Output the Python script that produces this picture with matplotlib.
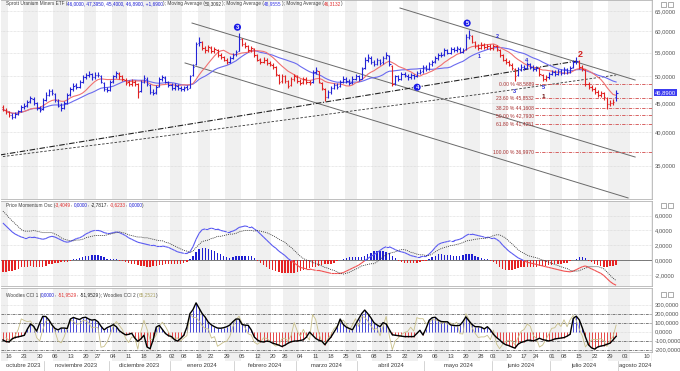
import numpy as np
import pandas as pd
import matplotlib
matplotlib.use('Agg')
import matplotlib.pyplot as plt
from matplotlib.collections import LineCollection
from matplotlib.transforms import blended_transform_factory
from matplotlib.ticker import NullLocator, FuncFormatter
from matplotlib.patches import Rectangle

plt.rcParams['font.family'] = ['Liberation Sans', 'DejaVu Sans']

# ---------------- dados ----------------
aberturas = [
    44.3, 43.7, 43.3, 42.8, 42.6, 43.0, 43.6, 44.2, 44.6, 45.3,
    45.7, 44.9, 44.1, 43.9, 45.6, 46.5, 47.1, 46.6, 45.4, 44.6,
    44.1, 45.0, 46.6, 47.5, 48.3, 48.0, 49.0, 49.9, 50.2, 50.5,
    49.8, 50.4, 50.1, 48.8, 47.6, 47.4, 49.1, 50.0, 50.6, 50.0,
    49.4, 48.9, 48.5, 49.0, 48.5, 47.2, 49.0, 49.6, 48.4, 47.0,
    46.9, 48.1, 49.5, 49.7, 48.9, 48.4, 47.8, 48.2, 47.8, 47.5,
    47.9, 47.8, 50.2, 52.5, 57.2, 57.3, 56.0, 55.6, 56.1, 55.4,
    55.7, 54.5, 54.0, 53.4, 53.0, 53.9, 54.6, 55.4, 58.0, 57.0,
    56.4, 55.5, 55.9, 54.4, 53.6, 53.0, 53.5, 52.8, 52.4, 51.9,
    50.4, 49.1, 50.0, 49.1, 48.3, 49.5, 49.9, 49.2, 48.9, 49.5,
    49.0, 48.9, 51.0, 51.1, 48.8, 47.6, 46.1, 47.0, 47.8, 48.3,
    48.1, 49.0, 49.5, 49.1, 48.9, 49.6, 50.0, 49.6, 51.7, 53.5,
    53.9, 53.0, 52.6, 53.4, 52.9, 53.9, 54.3, 52.2, 48.7, 50.0,
    49.6, 50.5, 50.1, 49.8, 50.3, 50.0, 50.8, 51.1, 52.0, 51.6,
    52.5, 53.1, 53.8, 54.5, 54.6, 55.5, 55.0, 55.8, 55.5, 55.9,
    55.2, 55.8, 58.6, 58.8, 57.4, 56.5, 56.0, 56.8, 56.2, 56.5,
    56.0, 56.4, 55.7, 54.4, 53.5, 53.0, 52.4, 51.6, 50.2, 51.5,
    52.0, 51.8, 52.5, 52.0, 51.5, 51.7, 50.4, 49.5, 49.8, 50.5,
    51.0, 50.5, 51.2, 50.8, 51.5, 51.0, 51.9, 53.0, 53.2, 52.0,
    51.3, 48.5, 48.0, 47.5, 47.0, 46.5, 46.8, 45.9, 44.8, 45.0,
    46.0]
maximas = [
    44.6, 44.0, 43.6, 43.2, 43.4, 43.8, 44.6, 45.0, 45.6, 46.3,
    46.0, 45.1, 44.5, 45.8, 46.9, 47.6, 47.5, 46.8, 45.7, 44.9,
    45.3, 46.8, 47.9, 48.7, 48.8, 49.4, 50.2, 50.8, 51.2, 50.8,
    50.9, 51.0, 50.3, 49.0, 48.0, 49.3, 50.4, 51.2, 50.9, 50.3,
    49.7, 49.3, 49.5, 49.4, 48.7, 49.4, 50.2, 49.8, 48.6, 47.5,
    48.4, 49.8, 50.3, 50.0, 49.2, 48.7, 48.7, 48.6, 48.1, 48.2,
    48.3, 50.4, 52.5, 57.5, 58.6, 57.6, 56.5, 56.8, 56.4, 56.3,
    55.9, 54.9, 54.3, 53.8, 54.2, 55.0, 55.7, 59.5, 58.4, 57.5,
    56.7, 56.6, 56.1, 54.7, 53.9, 54.0, 53.8, 53.2, 52.8, 52.1,
    50.6, 50.5, 50.3, 49.4, 49.9, 50.5, 50.2, 49.6, 49.9, 49.8,
    49.4, 51.4, 51.9, 51.2, 49.0, 47.8, 47.4, 48.2, 48.8, 48.7,
    49.4, 50.0, 49.9, 49.5, 50.0, 50.5, 50.3, 51.9, 54.0, 54.6,
    54.2, 53.4, 53.9, 53.7, 54.2, 55.1, 54.5, 52.4, 50.4, 50.3,
    50.9, 50.9, 50.5, 50.7, 50.6, 51.2, 51.5, 52.4, 52.3, 52.9,
    53.5, 54.2, 55.0, 55.2, 56.0, 55.9, 56.3, 56.2, 56.6, 56.2,
    56.0, 59.2, 60.3, 59.0, 57.7, 56.9, 57.3, 57.1, 57.0, 56.9,
    57.0, 56.7, 55.9, 54.7, 53.9, 53.4, 52.7, 51.8, 51.9, 52.5,
    52.4, 52.9, 52.8, 52.3, 52.2, 51.9, 50.6, 50.3, 50.9, 51.4,
    51.3, 51.6, 51.5, 51.9, 51.8, 52.2, 53.5, 54.0, 53.4, 52.3,
    51.5, 48.9, 48.3, 47.9, 47.3, 47.2, 47.0, 46.1, 45.5, 45.7,
    47.395]
minimas = [
    43.5, 43.0, 42.5, 42.2, 42.4, 42.8, 43.4, 43.9, 44.3, 45.0,
    44.7, 43.7, 43.4, 43.8, 45.3, 46.2, 46.4, 45.2, 44.2, 43.6,
    43.9, 44.8, 46.3, 47.2, 47.6, 47.8, 48.7, 49.6, 49.9, 49.4,
    49.5, 49.8, 48.7, 47.1, 46.9, 47.2, 48.8, 49.7, 49.6, 49.1,
    48.4, 48.1, 48.2, 48.2, 45.8, 47.0, 48.7, 48.2, 46.6, 46.4,
    46.7, 47.9, 49.2, 48.7, 47.9, 47.4, 47.4, 47.4, 47.1, 47.2,
    47.3, 47.7, 50.0, 52.3, 56.5, 55.6, 55.0, 55.2, 54.9, 55.0,
    54.1, 53.6, 53.1, 52.6, 52.8, 53.6, 54.3, 55.3, 56.6, 56.1,
    55.1, 55.2, 54.1, 53.1, 52.6, 52.7, 52.4, 52.1, 51.6, 50.1,
    48.6, 48.8, 48.8, 47.8, 48.1, 49.2, 48.8, 48.4, 48.6, 48.6,
    48.4, 48.8, 50.6, 48.7, 47.4, 45.3, 45.8, 46.7, 47.5, 47.6,
    47.9, 48.7, 48.8, 48.4, 48.6, 49.3, 49.1, 49.5, 51.5, 53.0,
    52.6, 52.1, 52.3, 52.4, 52.6, 53.6, 52.1, 48.1, 48.4, 49.1,
    49.3, 49.8, 49.4, 49.5, 49.6, 49.8, 50.5, 50.8, 51.1, 51.3,
    52.2, 52.8, 53.5, 54.0, 54.3, 54.6, 54.8, 55.1, 55.2, 54.9,
    54.9, 55.7, 58.2, 57.1, 56.1, 55.6, 55.8, 55.8, 55.9, 55.6,
    55.7, 55.4, 54.1, 53.1, 52.6, 52.1, 51.4, 49.2, 50.0, 51.2,
    51.4, 51.5, 51.6, 51.1, 51.1, 50.1, 49.1, 49.2, 49.6, 50.2,
    50.1, 50.3, 50.4, 50.6, 50.6, 50.8, 51.7, 52.6, 51.6, 51.1,
    48.1, 47.6, 47.1, 46.6, 46.1, 46.1, 45.6, 43.9, 44.4, 44.6,
    45.4]
fechamentos = [
    43.8, 43.4, 42.9, 42.6, 43.0, 43.5, 44.2, 44.5, 45.2, 45.8,
    45.0, 44.0, 43.8, 45.5, 46.5, 47.2, 46.8, 45.5, 44.5, 44.0,
    45.0, 46.5, 47.5, 48.2, 48.0, 49.0, 49.8, 50.3, 50.6, 49.8,
    50.4, 50.2, 49.0, 47.5, 47.3, 49.0, 50.0, 50.7, 50.0, 49.5,
    48.8, 48.5, 49.0, 48.6, 47.0, 49.0, 49.7, 48.5, 47.0, 46.8,
    48.0, 49.5, 49.8, 49.0, 48.3, 47.8, 48.3, 47.8, 47.5, 47.8,
    47.6, 50.0, 52.0, 57.0, 57.5, 56.0, 55.5, 56.2, 55.3, 55.8,
    54.5, 54.0, 53.5, 53.0, 53.8, 54.5, 55.2, 58.0, 57.0, 56.5,
    55.5, 56.0, 54.5, 53.5, 53.0, 53.5, 52.8, 52.5, 52.0, 50.5,
    49.0, 50.0, 49.2, 48.2, 49.5, 50.0, 49.2, 48.8, 49.5, 49.0,
    48.8, 51.0, 51.3, 49.0, 47.8, 46.0, 47.0, 47.8, 48.3, 48.0,
    49.0, 49.5, 49.2, 48.8, 49.6, 50.0, 49.5, 51.5, 53.5, 54.0,
    53.0, 52.5, 53.5, 52.8, 53.8, 54.5, 52.5, 48.5, 50.0, 49.5,
    50.5, 50.2, 49.8, 50.3, 50.0, 50.8, 51.0, 52.0, 51.5, 52.5,
    53.0, 53.8, 54.5, 54.5, 55.5, 55.0, 55.8, 55.5, 56.0, 55.2,
    55.5, 58.5, 59.0, 57.5, 56.5, 56.0, 56.8, 56.2, 56.5, 56.0,
    56.5, 55.8, 54.5, 53.5, 53.0, 52.5, 51.8, 50.0, 51.5, 52.0,
    51.8, 52.5, 52.0, 51.5, 51.8, 50.5, 49.5, 49.8, 50.5, 51.0,
    50.5, 51.2, 50.8, 51.5, 51.0, 51.8, 53.0, 53.3, 52.0, 51.5,
    48.5, 48.0, 47.5, 47.0, 46.5, 46.8, 46.0, 44.8, 45.0, 45.2,
    46.89]

# trechos de barras vermelhas (indice inicial, indice final)
trechos_vermelhos = [(0, 2), (38, 44), (65, 73), (78, 100), (103, 105), (127, 127),
                     (153, 167), (175, 177), (188, 199)]

# media longa (tracejada), lida em alguns pontos
ma_longa_idx = [0, 40, 80, 120, 160, 200]
ma_longa_val = [36.3, 38.6, 41.2, 44.0, 46.9, 50.3]

pmo = [
    5.0, 4.6, 4.2, 3.8, 3.5, 3.3, 3.1, 3.0, 3.0, 3.1,
    3.1, 3.0, 2.9, 2.8, 2.9, 3.1, 3.2, 3.1, 2.9, 2.7,
    2.5, 2.4, 2.5, 2.7, 2.9, 3.0, 3.2, 3.5, 3.7, 3.9,
    4.0, 4.0, 3.9, 3.7, 3.6, 3.6, 3.7, 3.8, 3.7, 3.5,
    3.3, 3.0, 2.8, 2.6, 2.4, 2.3, 2.2, 2.1, 2.0, 2.0,
    1.9, 1.9, 1.9, 1.8, 1.7, 1.5, 1.3, 1.1, 1.0, 0.9,
    0.9, 1.1, 1.8, 2.8, 3.6, 4.1, 4.2, 4.2, 4.3, 4.2,
    4.2, 4.0, 3.9, 3.8, 3.8, 3.9, 4.1, 4.4, 4.5, 4.6,
    4.5, 4.5, 4.2, 3.9, 3.5, 3.1, 2.7, 2.3, 1.9, 1.6,
    1.2, 0.9, 0.6, 0.2, -0.1, -0.4, -0.7, -1.0, -1.1, -1.2,
    -1.2, -1.3, -1.4, -1.4, -1.5, -1.6, -1.7, -1.8, -1.8, -1.8,
    -1.8, -1.7, -1.5, -1.3, -1.1, -0.9, -0.7, -0.4, -0.1, 0.2,
    0.5, 0.7, 1.0, 1.3, 1.6, 1.8, 1.8, 1.6, 1.4, 1.2,
    1.1, 1.0, 0.8, 0.6, 0.5, 0.4, 0.4, 0.5, 0.5, 0.8,
    1.2, 1.7, 2.1, 2.3, 2.4, 2.5, 2.6, 2.6, 2.7, 2.8,
    3.0, 3.3, 3.5, 3.5, 3.4, 3.3, 3.2, 3.1, 3.1, 3.0,
    3.0, 2.8, 2.5, 2.0, 1.6, 1.2, 0.9, 0.6, 0.3, 0.1,
    -0.1, -0.3, -0.4, -0.5, -0.6, -0.7, -0.8, -0.9, -1.0, -1.1,
    -1.2, -1.3, -1.4, -1.5, -1.55, -1.6, -1.5, -1.3, -1.1, -0.9,
    -0.8, -1.0, -1.2, -1.4, -1.6, -1.8, -2.1, -2.5, -2.9, -3.2,
    -3.4049]
pmo_hist = [
    -1.6, -1.6, -1.5, -1.5, -1.4, -1.2, -1.0, -0.9, -0.9, -0.8,
    -0.9, -0.9, -0.9, -0.9, -0.8, -0.6, -0.5, -0.4, -0.4, -0.3,
    -0.3, -0.3, -0.1, 0.1, 0.2, 0.3, 0.4, 0.5, 0.6, 0.7,
    0.7, 0.7, 0.6, 0.4, 0.2, 0.1, 0.1, 0.1, -0.1, -0.2,
    -0.3, -0.4, -0.5, -0.6, -0.7, -0.8, -0.8, -0.9, -0.9, -0.8,
    -0.8, -0.7, -0.7, -0.6, -0.6, -0.6, -0.6, -0.6, -0.5, -0.4,
    -0.3, 0.1, 0.6, 1.1, 1.5, 1.6, 1.6, 1.5, 1.4, 1.2,
    1.0, 0.8, 0.6, 0.4, 0.3, 0.4, 0.5, 0.6, 0.6, 0.6,
    0.5, 0.5, 0.3, -0.1, -0.4, -0.7, -1.0, -1.2, -1.4, -1.5,
    -1.6, -1.7, -1.8, -1.8, -1.8, -1.7, -1.6, -1.5, -1.3, -1.2,
    -1.1, -1.0, -0.9, -0.8, -0.7, -0.6, -0.6, -0.5, -0.4, -0.2,
    0.0, 0.2, 0.3, 0.35, 0.35, 0.35, 0.35, 0.4, 0.6, 0.8,
    1.0, 1.2, 1.25, 1.25, 1.2, 1.1, 0.9, 0.6, 0.3, -0.1,
    -0.3, -0.4, -0.45, -0.45, -0.45, -0.4, -0.3, -0.2, -0.1, 0.2,
    0.4, 0.6, 0.75, 0.75, 0.7, 0.7, 0.65, 0.6, 0.6, 0.6,
    0.65, 0.75, 0.85, 0.8, 0.6, 0.45, 0.3, 0.2, 0.1, -0.1,
    -0.3, -0.6, -0.9, -1.2, -1.35, -1.35, -1.3, -1.2, -1.1, -1.0,
    -1.0, -0.95, -0.9, -0.9, -0.9, -0.85, -0.8, -0.75, -0.7, -0.65,
    -0.6, -0.55, -0.5, -0.45, -0.4, -0.2, 0.0, 0.2, 0.35, 0.35,
    0.3, -0.1, -0.3, -0.5, -0.7, -0.8, -0.9, -0.9, -0.85, -0.75,
    -0.6233]
cci1 = [
    -92, -110, -115, -80, -65, -58, -50, -40, 30, 85,
    60, 5, 95, 170, 168, 130, 75, 35, 20, 40,
    40, 35, 140, 158, 145, 135, 155, 160, 140, 128,
    134, 110, 60, 20, 45, 60, 78, 55, 10, -15,
    -35, -30, -18, -70, -108, -80, -40, -170, -190, -90,
    50, 70, 25, -20, -45, -55, -90, -105, -75, -40,
    50, 200, 245, 320, 260, 200, 160, 105, 75, 55,
    40, 38, 44, 55, 73, 110, 140, 140, 80, 72,
    70, 20, -60, -92, -110, -115, -105, -110, -128, -138,
    -150, -165, -150, -128, -112, -105, -103, -98, -90, -60,
    -5, -40, -75, -95, -105, -145, -100, -60, -5, 50,
    140, 80, 50, 35, 20, 80, 140, 200, 240, 200,
    155, 100, 75, 55, 100, 85, 25, -35, -40, -44,
    -50, -55, -55, -55, -55, -20, 15, -37, 35, 125,
    155, 160, 128, 112, 110, 110, 75, 68, 66, 70,
    110, 165, 120, 80, 55, 55, 50, 30, 55, 20,
    -30, -65, -92, -125, -145, -155, -170, -183, -140, -120,
    -110, -95, -95, -103, -90, -73, -88, -95, -103, -95,
    -81, -76, -72, -66, -50, -29, 147, 172, 130, 40,
    -60, -147, -180, -194, -170, -160, -154, -140, -128, -92,
    -51.95]

fib_pcts = [0.0, 23.6, 38.2, 50.0, 61.8, 100.0]
fib_topo = 48.5889
fib_base = 36.9970

feriados = ['2023-11-23', '2023-12-25', '2024-01-01', '2024-01-15', '2024-02-19',
            '2024-03-29', '2024-05-27', '2024-06-19', '2024-07-04']
meses = ['enero', 'febrero', 'marzo', 'abril', 'mayo', 'junio', 'julio',
         'agosto', 'septiembre', 'octubre', 'noviembre', 'diciembre']

# ---------------- preparacao ----------------
datas = pd.bdate_range('2023-10-12', '2024-07-31')
datas = datas[~datas.isin(pd.to_datetime(feriados))]
futuro = pd.date_range('2024-08-01', periods=12, freq='D')
todas = datas.append(futuro)

df = pd.DataFrame({'open': aberturas, 'high': maximas, 'low': minimas,
                   'close': fechamentos}, index=datas)
n = len(df)
x = np.arange(n)

ma_curta = df['close'].rolling(10, min_periods=1).mean()
ma_media = df['close'].rolling(20, min_periods=1).mean()

tp = (df['high'] + df['low'] + df['close']) / 3
sma6 = tp.rolling(6, min_periods=2).mean()
md6 = tp.rolling(6, min_periods=2).apply(lambda s: np.mean(np.abs(s - s.mean())), raw=True)
cci2 = (tp - sma6) / (0.015 * md6)

W, H = 680, 371
XMIN, XMAX = -0.62, 211.7


def fmt(v):
    return f"{v:.4f}".replace('.', ',')


fig = plt.figure(figsize=(W / 100, H / 100), dpi=100)
fig.patch.set_facecolor('white')


def eixo(topo, base):
    return fig.add_axes([1 / W, 1 - base / H, 651 / W, (base - topo) / H])


ax1 = eixo(0, 199)
ax2 = eixo(201, 286)
ax3 = eixo(288, 352)

# faixas semanais alternadas
semanas = np.asarray(todas.isocalendar()['week'], dtype=int)
faixas = []
ini = 0
for k in range(1, len(todas) + 1):
    if k == len(todas) or semanas[k] != semanas[ini]:
        if semanas[ini] % 2 == 1:
            faixas.append((ini - 0.5, min(k - 0.5, XMAX)))
        ini = k

for ax in (ax1, ax2, ax3):
    for a, b in faixas:
        ax.axvspan(a, b, color='#f0f0f0', lw=0, zorder=0)
    ax.set_xlim(XMIN, XMAX)
    ax.yaxis.tick_right()
    ax.tick_params(axis='y', length=0, pad=2, labelsize=4.2, labelcolor='#555555')
    ax.tick_params(axis='x', length=0)
    ax.grid(axis='y', color='#d4d4d4', lw=0.5, ls=(0, (1, 1)))
    ax.set_axisbelow(True)
    for lado in ('top', 'bottom', 'right'):
        ax.spines[lado].set_color('#b4b4b4')
        ax.spines[lado].set_linewidth(0.6)
    ax.spines['left'].set_visible(False)

for a, b in faixas:
    ax3.axvspan(a, b, ymin=-0.14, ymax=0, color='#f0f0f0', lw=0, zorder=0, clip_on=False)

# ---------------- painel de precos ----------------
cor_barra = ['#2424d6'] * n
for a, b in trechos_vermelhos:
    for i in range(a, b + 1):
        cor_barra[i] = '#e02222'
seg_hl = [[(i, l), (i, h)] for i, l, h in zip(x, df['low'], df['high'])]
seg_o = [[(i - 0.45, o), (i, o)] for i, o in zip(x, df['open'])]
seg_c = [[(i, c), (i + 0.45, c)] for i, c in zip(x, df['close'])]
ax1.add_collection(LineCollection(seg_hl + seg_o + seg_c, colors=cor_barra * 3,
                                  linewidths=0.8, zorder=5))

ax1.plot(x, ma_media, color='#6b6bef', lw=0.8, zorder=4)
ax1.plot(x, ma_curta, color='#f07272', lw=0.8, zorder=4)
ax1.plot(ma_longa_idx, ma_longa_val, color='#333333', lw=0.6, ls=(0, (3, 2)), zorder=3)

# canais e linha de tendencia
canais = [((61.68, 61.92), (206.2, 36.23)),
          ((59.4, 52.78), (203.9, 30.76)),
          ((129.5, 65.76), (206.2, 49.30))]
for (i0, p0), (i1, p1) in canais:
    ax1.plot([i0, i1], [p0, p1], color='#6a6a6a', lw=0.7, zorder=3)
ax1.plot([-0.95, 187.2], [36.53, 53.19], color='#222222', lw=0.8,
         ls=(0, (5, 1.5, 1, 1.5)), zorder=3)

# niveis de Fibonacci
for pct in fib_pcts:
    v = fib_topo - pct / 100 * (fib_topo - fib_base)
    ax1.plot([173.6, XMAX], [v, v], color='#d24a4a', lw=0.6, ls=(0, (4, 1.5, 1, 1.5)), zorder=3)
    ax1.text(173.2, v, f"{pct:.2f} % {fmt(v)}", ha='right', va='center',
             fontsize=3.6, color='#a83030', zorder=6)

# rotulos de ondas
rotulos = [(76.5, 60.9, '3', 'c'), (151.4, 61.9, '5', 'c'), (135.1, 47.9, '4', 'c'),
           (161.2, 58.6, '2', 'a'), (155.3, 54.1, '1', 'a'), (170.9, 53.4, '4', 'a'),
           (166.7, 47.1, '3', 'a'), (176.2, 47.9, '5', 'a'), (176.2, 46.1, '1', 'v'),
           (188.2, 54.5, '2', 'r')]
for i, p, t, estilo in rotulos:
    if estilo == 'c':
        ax1.text(i, p, t, ha='center', va='center', fontsize=4.3, color='white',
                 fontweight='bold', zorder=7,
                 bbox=dict(boxstyle='circle,pad=0.18', fc='#1c1ce6', ec='none'))
    elif estilo == 'a':
        ax1.text(i, p, t, ha='center', va='center', fontsize=4.0, color='#2a2ad8',
                 fontweight='bold', zorder=7)
    elif estilo == 'v':
        ax1.text(i, p, t, ha='center', va='center', fontsize=4.5, color='#6e1010',
                 fontweight='bold', zorder=7)
    else:
        ax1.text(i, p, t, ha='center', va='center', fontsize=6.5, color='#d42020',
                 fontweight='bold', zorder=7)

ax1.set_yscale('log')
ax1.set_ylim(30.63, 67.9)
ax1.set_yticks([35, 40, 45, 50, 55, 60, 65])
ax1.yaxis.set_minor_locator(NullLocator())
ax1.yaxis.set_major_formatter(FuncFormatter(lambda v, p: fmt(v)))
ax1.set_xticks([])
ax1.annotate(fmt(fechamentos[-1]), xy=(1.0, fechamentos[-1]),
             xycoords=('axes fraction', 'data'), xytext=(2, 0), textcoords='offset points',
             ha='left', va='center', fontsize=4.2, color='white', zorder=8, annotation_clip=False,
             bbox=dict(boxstyle='square,pad=0.2', fc='#3c3cf0', ec='none'))

# ---------------- painel PMO ----------------
pmo_arr = np.array(pmo)
hist = np.array(pmo_hist)
sinal = pmo_arr - hist
ax2.bar(x, hist, width=0.45, color=np.where(hist >= 0, '#1f1fd2', '#e62222'), zorder=3)
pts = np.column_stack([x, pmo_arr])
segs = np.stack([pts[:-1], pts[1:]], axis=1)
cores = np.where((pmo_arr[:-1] + pmo_arr[1:]) / 2 >= 0, '#5a5af2', '#f05050')
ax2.add_collection(LineCollection(segs, colors=cores, linewidths=0.8, zorder=4))
ax2.plot(x, sinal, color='#333333', lw=0.6, ls=(0, (1.2, 1.2)), zorder=4)
ax2.axhline(0, color='#666666', lw=0.6, zorder=2)
ax2.set_ylim(-3.51, 7.97)
ax2.set_yticks([-2, 0, 2, 4, 6])
ax2.yaxis.set_major_formatter(FuncFormatter(lambda v, p: fmt(v)))
ax2.set_xticks([])

# ---------------- painel CCI ----------------
c1 = np.array(cci1, dtype=float)
ax3.vlines(x, 0, c1, colors=np.where(c1 >= 0, '#2a2ad2', '#e22a2a'), lw=0.6, zorder=3)
ax3.plot(x, c1, color='black', lw=1.0, zorder=5)
ax3.plot(x, cci2, color='#c9c08a', lw=0.6, zorder=4)
for nivel in [200, 100, -100, -200]:
    ax3.axhline(nivel, color='#505050', lw=0.5, ls=(0, (4, 1.5, 1, 1.5)), zorder=2)
ax3.set_ylim(-226, 485)
ax3.set_yticks([-200, -100, 0, 100, 200, 300])
ax3.yaxis.set_major_formatter(FuncFormatter(lambda v, p: fmt(v)))

# marcas semanais no eixo x
pos, rot = [], []
for k in range(1, len(todas)):
    d = todas[k]
    if k < n:
        if semanas[k] != semanas[k - 1]:
            pos.append(k)
            rot.append(f"{d.day:02d}")
    elif d.weekday() == 5 and k <= XMAX:
        pos.append(k)
        rot.append(f"{d.day:02d}")
ax3.set_xticks(pos)
ax3.set_xticklabels(rot)
ax3.tick_params(axis='x', labelsize=4.2, labelcolor='#444444', pad=1.5)

# meses
trans = blended_transform_factory(ax3.transData, ax3.transAxes)
mes_id = todas.year * 12 + todas.month
ini = 0
for k in range(1, len(todas) + 1):
    if k == len(todas) or mes_id[k] != mes_id[ini]:
        d = todas[ini]
        centro = (ini + min(k - 1, XMAX)) / 2
        ax3.text(centro, -0.215, f"{meses[d.month - 1]} {d.year}", transform=trans,
                 ha='center', va='center', fontsize=4.2, color='#3a3a3a', clip_on=False)
        if k < len(todas) and k - 0.5 < XMAX:
            ax3.plot([k - 0.5, k - 0.5], [-0.14, -0.33], transform=trans, color='#c4c4c4',
                     lw=0.5, clip_on=False)
        ini = k

# ---------------- titulos coloridos ----------------
fig.canvas.draw()
rend = fig.canvas.get_renderer()


def titulo(y_px, partes, tam=3.4):
    xp = 6 / W
    for texto, cor in partes:
        t = fig.text(xp, 1 - y_px / H, texto, color=cor, fontsize=tam, ha='left', va='center')
        xp += t.get_window_extent(renderer=rend).width / fig.bbox.width


azul = '#1c1cd4'
titulo(4, [("Sprott Uranium Miners ETF (", '#404040'),
           ("46,0000, 47,3950, 45,4000, 46,8900, +1,6900", azul),
           ("); Moving Average (", '#404040'), ("50,3092", '#303030'),
           ("); Moving Average (", '#404040'), ("48,9555", '#3a3ae6'),
           ("); Moving Average (", '#404040'), ("46,3132", '#e03030'), (")", '#404040')])
titulo(205, [("Price Momentum Osc (", '#404040'), ("-3,4049", '#e03030'), (", ", '#404040'),
             ("0,0000", azul), (", ", '#404040'), ("-2,7817", '#202020'), (", ", '#404040'),
             ("-0,6233", '#e03030'), (", ", '#404040'), ("0,0000", azul), (")", '#404040')])
titulo(295, [("Woodies CCI 1 (", '#404040'), ("0,0000", azul), (", ", '#404040'),
             ("-51,9529", '#e03030'), (", ", '#404040'), ("-51,9529", '#202020'),
             ("); Woodies CCI 2 (", '#404040'), ("65,2521", '#a8a060'), (")", '#404040')])

# pequenos botoes no canto de cada painel
for yb in (2, 203, 292):
    for xb in (661, 668):
        fig.patches.append(Rectangle((xb / W, 1 - (yb + 5) / H), 5 / W, 5 / H,
                                     transform=fig.transFigure, fill=False,
                                     ec='#8a8a8a', lw=0.5))

fig.savefig('out.png', dpi=100)
